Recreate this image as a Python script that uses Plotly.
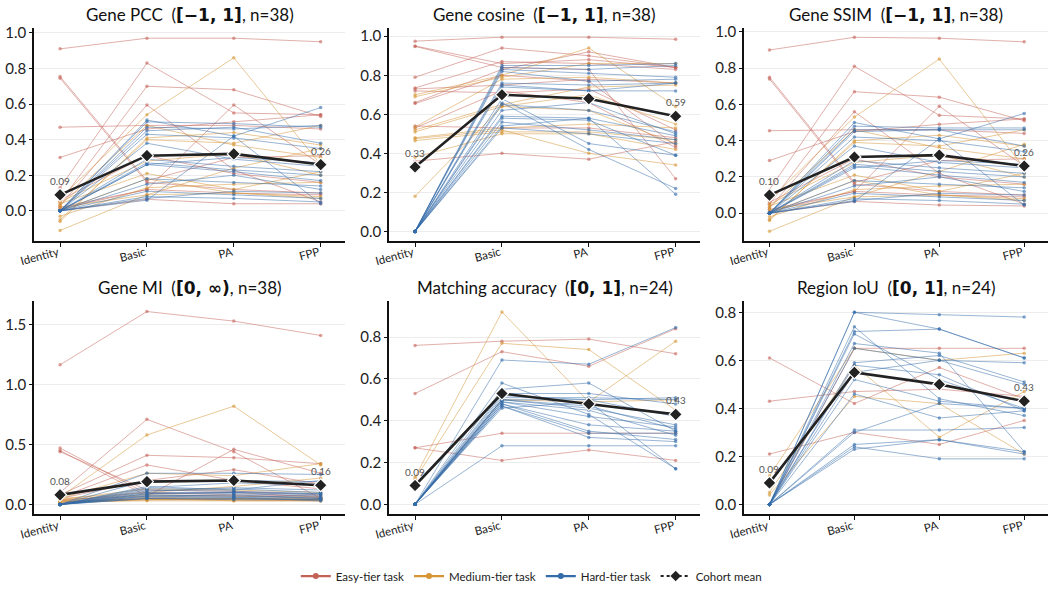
import plotly.graph_objects as go

STAGES = ["Identity", "Basic", "PA", "FPP"]

# ---- Gene PCC (n=38) : per task [Identity, Basic, PA, FPP] ----
PCC_EASY = [
    [0.91, 0.97, 0.97, 0.95], [0.755, 0.17, 0.30, 0.31], [0.745, 0.16, 0.12, 0.10],
    [0.47, 0.48, 0.48, 0.46], [0.30, 0.46, 0.50, 0.54], [0.13, 0.83, 0.55, 0.54],
    [0.05, 0.70, 0.68, 0.53], [0.03, 0.595, 0.23, 0.05], [0.02, 0.12, 0.595, 0.26],
    [0.00, 0.065, 0.04, 0.04], [0.06, 0.31, 0.21, 0.16], [0.01, 0.12, 0.10, 0.09],
]
PCC_MEDIUM = [
    [0.07, 0.54, 0.86, 0.26], [-0.11, 0.09, 0.10, 0.08], [-0.06, 0.41, 0.44, 0.37],
    [-0.05, 0.40, 0.38, 0.48], [0.03, 0.48, 0.37, 0.30], [0.04, 0.21, 0.12, 0.22],
    [-0.03, 0.13, 0.15, 0.16], [0.02, 0.09, 0.24, 0.35], [0.05, 0.28, 0.32, 0.20],
    [0.00, 0.18, 0.10, 0.07],
]
PCC_HARD = [
    [0.0, 0.51, 0.42, 0.58], [0.0, 0.50, 0.49, 0.47], [0.0, 0.47, 0.46, 0.48],
    [0.0, 0.45, 0.47, 0.38], [0.0, 0.43, 0.41, 0.35], [0.0, 0.38, 0.29, 0.25],
    [0.0, 0.29, 0.25, 0.22], [0.0, 0.27, 0.23, 0.20], [0.0, 0.26, 0.22, 0.17],
    [0.0, 0.26, 0.30, 0.27], [0.0, 0.18, 0.16, 0.14], [0.0, 0.15, 0.20, 0.12],
    [0.0, 0.11, 0.09, 0.07], [0.0, 0.08, 0.07, 0.05], [0.0, 0.06, 0.42, 0.04],
    [0.0, 0.07, 0.11, 0.10],
]
PCC_MEAN = [0.09, 0.31, 0.32, 0.26]

# ---- Gene cosine (n=38) ----
COS_EASY = [
    [0.975, 0.995, 0.995, 0.985], [0.95, 0.86, 0.88, 0.84], [0.948, 0.84, 0.83, 0.27],
    [0.79, 0.94, 0.90, 0.84], [0.735, 0.87, 0.86, 0.83], [0.73, 0.75, 0.78, 0.76],
    [0.72, 0.71, 0.73, 0.52], [0.66, 0.83, 0.92, 0.84], [0.655, 0.80, 0.77, 0.44],
    [0.54, 0.53, 0.53, 0.48], [0.53, 0.72, 0.66, 0.43], [0.36, 0.40, 0.37, 0.46],
]
COS_MEDIUM = [
    [0.70, 0.80, 0.94, 0.64], [0.69, 0.79, 0.86, 0.86], [0.535, 0.78, 0.79, 0.76],
    [0.52, 0.65, 0.74, 0.75], [0.51, 0.64, 0.70, 0.55], [0.48, 0.53, 0.55, 0.53],
    [0.475, 0.52, 0.40, 0.34], [0.465, 0.51, 0.51, 0.47], [0.38, 0.50, 0.50, 0.42],
    [0.18, 0.64, 0.62, 0.45],
]
COS_HARD = [
    [0.0, 0.85, 0.85, 0.86], [0.0, 0.84, 0.83, 0.85], [0.0, 0.83, 0.81, 0.79],
    [0.0, 0.82, 0.77, 0.78], [0.0, 0.76, 0.75, 0.76], [0.0, 0.75, 0.72, 0.76],
    [0.0, 0.74, 0.72, 0.72], [0.0, 0.68, 0.45, 0.39], [0.0, 0.66, 0.42, 0.22],
    [0.0, 0.65, 0.62, 0.51], [0.0, 0.62, 0.66, 0.50], [0.0, 0.59, 0.58, 0.49],
    [0.0, 0.58, 0.57, 0.39], [0.0, 0.56, 0.52, 0.47], [0.0, 0.54, 0.58, 0.19],
    [0.0, 0.53, 0.50, 0.45],
]
COS_MEAN = [0.33, 0.70, 0.68, 0.59]

# ---- Gene SSIM (n=38) ----
SSIM_EASY = [
    [0.90, 0.97, 0.965, 0.945], [0.75, 0.17, 0.29, 0.30], [0.74, 0.16, 0.12, 0.10],
    [0.455, 0.46, 0.46, 0.44], [0.29, 0.45, 0.49, 0.52], [0.13, 0.81, 0.54, 0.52],
    [0.05, 0.67, 0.64, 0.51], [0.03, 0.56, 0.22, 0.05], [0.02, 0.12, 0.59, 0.26],
    [0.00, 0.065, 0.045, 0.04], [0.06, 0.30, 0.20, 0.16], [0.01, 0.12, 0.10, 0.09],
]
SSIM_MEDIUM = [
    [0.07, 0.53, 0.85, 0.25], [-0.10, 0.09, 0.10, 0.08], [-0.04, 0.40, 0.43, 0.37],
    [-0.035, 0.39, 0.37, 0.46], [0.03, 0.46, 0.36, 0.30], [0.04, 0.21, 0.12, 0.22],
    [-0.02, 0.13, 0.15, 0.16], [0.02, 0.09, 0.23, 0.38], [0.05, 0.28, 0.32, 0.20],
    [0.00, 0.18, 0.10, 0.07],
]
SSIM_HARD = [
    [0.0, 0.50, 0.41, 0.55], [0.0, 0.48, 0.47, 0.47], [0.0, 0.46, 0.46, 0.46],
    [0.0, 0.45, 0.46, 0.37], [0.0, 0.42, 0.40, 0.34], [0.0, 0.37, 0.28, 0.25],
    [0.0, 0.29, 0.25, 0.22], [0.0, 0.27, 0.23, 0.20], [0.0, 0.26, 0.21, 0.17],
    [0.0, 0.25, 0.29, 0.27], [0.0, 0.18, 0.16, 0.14], [0.0, 0.15, 0.20, 0.12],
    [0.0, 0.11, 0.09, 0.07], [0.0, 0.08, 0.07, 0.05], [0.0, 0.065, 0.41, 0.045],
    [0.0, 0.07, 0.11, 0.10],
]
SSIM_MEAN = [0.10, 0.31, 0.32, 0.26]

# ---- Gene MI (n=38) ----
MI_EASY = [
    [1.165, 1.61, 1.53, 1.41], [0.47, 0.09, 0.10, 0.06], [0.45, 0.07, 0.07, 0.05],
    [0.44, 0.12, 0.11, 0.08], [0.10, 0.71, 0.44, 0.05], [0.08, 0.41, 0.39, 0.34],
    [0.06, 0.33, 0.20, 0.13], [0.04, 0.07, 0.46, 0.26], [0.05, 0.20, 0.29, 0.17],
    [0.02, 0.05, 0.05, 0.04], [0.03, 0.10, 0.08, 0.07], [0.02, 0.04, 0.04, 0.03],
]
MI_MEDIUM = [
    [0.06, 0.58, 0.82, 0.33], [0.05, 0.26, 0.24, 0.34], [0.04, 0.13, 0.12, 0.10],
    [0.03, 0.06, 0.05, 0.05], [0.03, 0.04, 0.04, 0.04], [0.02, 0.05, 0.03, 0.03],
    [0.04, 0.08, 0.07, 0.06], [0.02, 0.03, 0.03, 0.03], [0.05, 0.10, 0.15, 0.22],
    [0.01, 0.04, 0.05, 0.04],
]
MI_HARD = [
    [0.0, 0.26, 0.26, 0.25], [0.0, 0.20, 0.20, 0.19], [0.0, 0.14, 0.18, 0.16],
    [0.0, 0.13, 0.13, 0.10], [0.0, 0.12, 0.11, 0.09], [0.0, 0.10, 0.10, 0.08],
    [0.0, 0.09, 0.09, 0.07], [0.0, 0.08, 0.07, 0.06], [0.0, 0.07, 0.08, 0.05],
    [0.0, 0.06, 0.06, 0.05], [0.0, 0.05, 0.05, 0.04], [0.0, 0.11, 0.14, 0.12],
    [0.0, 0.15, 0.12, 0.20], [0.0, 0.09, 0.10, 0.09], [0.0, 0.07, 0.06, 0.03],
    [0.0, 0.05, 0.04, 0.04],
]
MI_MEAN = [0.08, 0.19, 0.20, 0.16]

# ---- Matching accuracy (n=24) ----
MATCH_EASY = [
    [0.76, 0.78, 0.79, 0.72], [0.53, 0.73, 0.66, 0.84],
    [0.27, 0.34, 0.34, 0.34], [0.27, 0.21, 0.26, 0.21],
]
MATCH_MEDIUM = [
    [0.13, 0.92, 0.49, 0.78], [0.12, 0.77, 0.74, 0.45], [0.0, 0.50, 0.49, 0.50],
]
MATCH_HARD = [
    [0.0, 0.69, 0.67, 0.845], [0.0, 0.58, 0.43, 0.17], [0.0, 0.55, 0.58, 0.35],
    [0.0, 0.53, 0.53, 0.48], [0.0, 0.52, 0.50, 0.51], [0.0, 0.51, 0.51, 0.50],
    [0.0, 0.50, 0.47, 0.36], [0.0, 0.50, 0.46, 0.38], [0.0, 0.49, 0.45, 0.33],
    [0.0, 0.49, 0.42, 0.37], [0.0, 0.48, 0.38, 0.35], [0.0, 0.48, 0.35, 0.31],
    [0.0, 0.47, 0.34, 0.34], [0.0, 0.47, 0.32, 0.30], [0.0, 0.46, 0.49, 0.17],
    [0.0, 0.50, 0.50, 0.42], [0.0, 0.28, 0.28, 0.28],
]
MATCH_MEAN = [0.09, 0.53, 0.48, 0.43]

# ---- Region IoU (n=24) ----
IOU_EASY = [
    [0.61, 0.42, 0.57, 0.44], [0.43, 0.47, 0.48, 0.45],
    [0.21, 0.30, 0.25, 0.35], [0.0, 0.65, 0.65, 0.65],
]
IOU_MEDIUM = [
    [0.12, 0.65, 0.60, 0.63], [0.05, 0.58, 0.28, 0.47], [0.04, 0.45, 0.42, 0.21],
]
IOU_HARD = [
    [0.0, 0.80, 0.79, 0.78], [0.0, 0.80, 0.73, 0.61], [0.0, 0.74, 0.44, 0.37],
    [0.0, 0.72, 0.73, 0.61], [0.0, 0.71, 0.52, 0.40], [0.0, 0.67, 0.63, 0.22],
    [0.0, 0.65, 0.60, 0.59], [0.0, 0.59, 0.62, 0.51], [0.0, 0.58, 0.54, 0.39],
    [0.0, 0.55, 0.60, 0.50], [0.0, 0.52, 0.43, 0.40], [0.0, 0.46, 0.36, 0.39],
    [0.0, 0.31, 0.31, 0.32], [0.0, 0.30, 0.42, 0.40], [0.0, 0.25, 0.27, 0.22],
    [0.0, 0.24, 0.19, 0.19], [0.0, 0.23, 0.27, 0.21],
]
IOU_MEAN = [0.09, 0.55, 0.50, 0.43]

TITLES = ["Gene PCC", "Gene cosine", "Gene SSIM", "Gene MI", "Matching accuracy", "Region IoU"]
RANGES = ["[\u22121, 1]", "[\u22121, 1]", "[\u22121, 1]", "[0, \u221e)", "[0, 1]", "[0, 1]"]
COUNTS = [38, 38, 38, 38, 24, 24]

PANELS = [
    (PCC_EASY, PCC_MEDIUM, PCC_HARD, PCC_MEAN),
    (COS_EASY, COS_MEDIUM, COS_HARD, COS_MEAN),
    (SSIM_EASY, SSIM_MEDIUM, SSIM_HARD, SSIM_MEAN),
    (MI_EASY, MI_MEDIUM, MI_HARD, MI_MEAN),
    (MATCH_EASY, MATCH_MEDIUM, MATCH_HARD, MATCH_MEAN),
    (IOU_EASY, IOU_MEDIUM, IOU_HARD, IOU_MEAN),
]

# layout geometry (pixels) and value axes
W, H = 1050, 591
X_DOMAINS = [(34, 345), (389, 700), (744, 1048)]
Y_DOMAINS = [(28, 242), (303, 517)]
Y_RANGES = [(-0.168, 1.028), (-0.048, 1.043), (-0.152, 1.022),
            (-0.083, 1.694), (-0.048, 0.970), (-0.041, 0.845)]
Y_TICKS = [[0, 0.2, 0.4, 0.6, 0.8, 1.0]] * 3 + [[0, 0.5, 1.0, 1.5],
                                                [0, 0.2, 0.4, 0.6, 0.8],
                                                [0, 0.2, 0.4, 0.6, 0.8]]

TIER_COLORS = {
    "easy": (196, 98, 88),
    "medium": (214, 148, 52),
    "hard": (52, 108, 170),
}
TIER_NAMES = {"easy": "Easy-tier task", "medium": "Medium-tier task", "hard": "Hard-tier task"}

FONT = "Lato, 'Open Sans', sans-serif"


def rgba(c, a):
    return f"rgba({c[0]},{c[1]},{c[2]},{a})"


fig = go.Figure()
annotations = []

for i, (easy, medium, hard, mean) in enumerate(PANELS):
    ax = i + 1
    xa = "x" if ax == 1 else f"x{ax}"
    ya = "y" if ax == 1 else f"y{ax}"
    for tier, rows in (("easy", easy), ("medium", medium), ("hard", hard)):
        c = TIER_COLORS[tier]
        for row in rows:
            fig.add_trace(go.Scatter(
                x=STAGES, y=row, mode="lines+markers",
                line=dict(color=rgba(c, 0.5), width=1),
                marker=dict(size=3.5, color=rgba(c, 0.6)),
                showlegend=False, hoverinfo="skip",
                xaxis=xa, yaxis=ya,
            ))
    fig.add_trace(go.Scatter(
        x=STAGES, y=mean, mode="lines+markers",
        line=dict(color="#222222", width=2.6),
        marker=dict(symbol="diamond", size=10, color="#222222",
                    line=dict(color="white", width=1.2)),
        showlegend=False, xaxis=xa, yaxis=ya,
    ))
    for j in (0, len(STAGES) - 1):
        annotations.append(dict(
            x=STAGES[j], y=mean[j], xref=xa, yref=ya,
            text=f"{mean[j]:.2f}", showarrow=False,
            yshift=14, font=dict(family=FONT, size=10, color="#555555"),
        ))

    col, row = i % 3, i // 3
    x0, x1 = X_DOMAINS[col]
    y0, y1 = Y_DOMAINS[row]
    xdom = [x0 / W, x1 / W]
    ydom = [1 - y1 / H, 1 - y0 / H]
    xkey = "xaxis" if ax == 1 else f"xaxis{ax}"
    ykey = "yaxis" if ax == 1 else f"yaxis{ax}"
    fig.layout[xkey] = dict(
        domain=xdom, anchor=ya, type="category", range=[-0.3, 3.28],
        automargin=False,
        showline=True, linecolor="#111111", linewidth=1.5,
        showgrid=False, zeroline=False,
        ticks="outside", ticklen=4, tickcolor="#111111",
        tickangle=-15, ticklabelshift=-2, ticklabelstandoff=-5,
        tickfont=dict(family=FONT, size=11.5, color="#222222"),
    )
    fig.layout[ykey] = dict(
        domain=ydom, anchor=xa, range=list(Y_RANGES[i]),
        automargin=False,
        tickvals=Y_TICKS[i], ticktext=[f"{v:.1f}" for v in Y_TICKS[i]],
        showline=True, linecolor="#111111", linewidth=1.5,
        showgrid=True, gridcolor="#ececec", gridwidth=1, zeroline=False,
        ticks="outside", ticklen=3, tickcolor="#111111",
        tickfont=dict(family=FONT, size=15, color="#222222"),
    )
    title = (f"{TITLES[i]}\u00a0 (<span style=\"font-family:'DejaVu Sans'\"><b>{RANGES[i]}</b></span>"
             f", n={COUNTS[i]})")
    annotations.append(dict(
        x=(xdom[0] + xdom[1]) / 2, y=ydom[1], xref="paper", yref="paper",
        xanchor="center", yanchor="bottom", yshift=1, text=title, showarrow=False,
        font=dict(family=FONT, size=17, color="#111111"),
    ))

# legend entries
for tier in ("easy", "medium", "hard"):
    c = TIER_COLORS[tier]
    fig.add_trace(go.Scatter(
        x=[None], y=[None], mode="lines+markers", name=TIER_NAMES[tier],
        line=dict(color=rgba(c, 1), width=2.2),
        marker=dict(size=6, color=rgba(c, 1)),
    ))
fig.add_trace(go.Scatter(
    x=[None], y=[None], mode="lines+markers", name="Cohort mean",
    line=dict(color="#222222", width=2, dash="dot"),
    marker=dict(symbol="diamond", size=8, color="#222222"),
))

fig.update_layout(
    width=W, height=H,
    margin=dict(l=0, r=0, t=0, b=0),
    paper_bgcolor="white", plot_bgcolor="white",
    font=dict(family=FONT, color="#222222"),
    annotations=annotations,
    showlegend=True,
    legend=dict(orientation="h", x=0.506, xanchor="center", y=(H - 579) / H,
                yanchor="middle", font=dict(family=FONT, size=11.5, color="#222222"),
                itemwidth=30, tracegroupgap=0, bgcolor="rgba(0,0,0,0)"),
)

fig.write_html("out.html")
